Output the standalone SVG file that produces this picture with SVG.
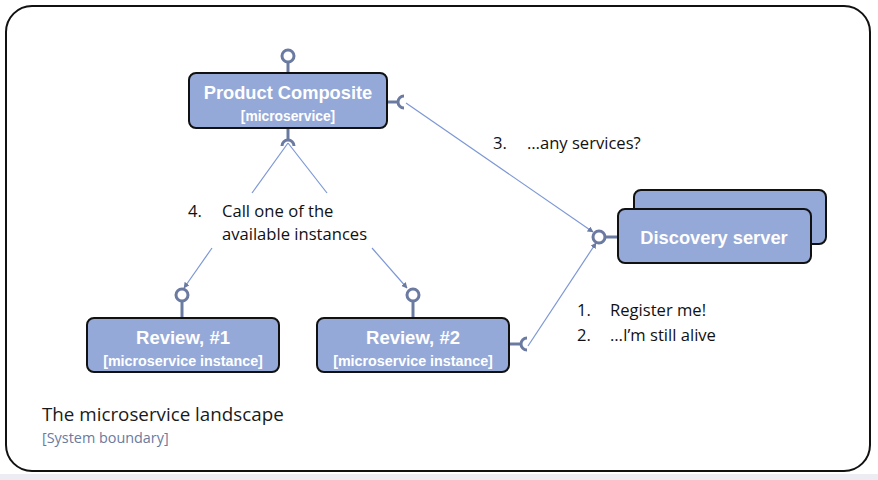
<svg xmlns="http://www.w3.org/2000/svg" width="878" height="480" viewBox="0 0 878 480">
<defs>
<style>
.box{fill:#94a9d8;stroke:#111;stroke-width:2}
.iface{fill:#fff;stroke:#6a7aa0;stroke-width:3}
.sock{fill:none;stroke:#6a7aa0;stroke-width:3}
.stick{stroke:#6a7aa0;stroke-width:3}
.conn{stroke:#7c97d6;stroke-width:1.2;fill:none}
.t{font-family:"Liberation Sans",Arial,sans-serif;fill:#fff;font-weight:bold;text-anchor:middle}
.lbl{font-family:"Open Sans","Liberation Sans",sans-serif;fill:#111;font-size:16.6px}
</style>
<marker id="arr" viewBox="0 0 10 10" refX="9" refY="5" markerWidth="6" markerHeight="6" orient="auto" markerUnits="userSpaceOnUse">
<path d="M0,0 L10,5 L0,10 z" fill="#6a7aa0"/>
</marker>
</defs>
<rect x="0" y="0" width="878" height="480" fill="#fff"/>
<rect x="0" y="474" width="878" height="6" fill="#ececf2"/>
<g id="boundary">
<rect x="6" y="6" width="864" height="465" rx="26" ry="26" fill="#fff" stroke="#111" stroke-width="2"/>
<text x="42" y="421" style="font-family:'Open Sans','Liberation Sans',sans-serif;font-size:18.8px;fill:#1a1a1a">The microservice landscape</text>
<text x="42" y="443" style="font-family:'Open Sans','Liberation Sans',sans-serif;font-size:14.4px;fill:#6a7aa0">[System boundary]</text>
</g>
<g id="connectors">
<line class="conn" x1="406" y1="103" x2="593" y2="232" marker-end="url(#arr)"/>
<line class="conn" x1="528" y1="346" x2="596" y2="243" marker-end="url(#arr)"/>
<line class="conn" x1="288" y1="143" x2="252" y2="193"/>
<line class="conn" x1="288" y1="143" x2="327" y2="193"/>
<line class="conn" x1="212" y1="248" x2="184" y2="288" marker-end="url(#arr)"/>
<line class="conn" x1="372" y1="248" x2="407" y2="288" marker-end="url(#arr)"/>
</g>
<g id="product-composite">
<line class="stick" x1="288" y1="62" x2="288" y2="73"/>
<circle class="iface" cx="288" cy="56" r="6"/>
<line class="stick" x1="288" y1="128" x2="288" y2="139"/>
<path class="sock" d="M282,146 A6,6 0 0 1 294,146"/>
<line class="stick" x1="387" y1="102" x2="398" y2="102"/>
<path class="sock" d="M404,96 A6,6 0 0 0 404,108"/>
<rect class="box" x="189" y="73" width="198" height="55" rx="7"/>
<text class="t" x="288" y="99" font-size="18.3">Product Composite</text>
<text class="t" x="288" y="121" font-size="13.8">[microservice]</text>
</g>
<g id="discovery-server">
<rect class="box" x="634" y="190" width="192" height="54" rx="7"/>
<line class="stick" x1="605" y1="237" x2="618" y2="237"/>
<circle class="iface" cx="599" cy="237" r="6"/>
<rect class="box" x="618" y="209" width="193" height="54" rx="7"/>
<text class="t" x="714" y="244" font-size="18.3">Discovery server</text>
</g>
<g id="review-1">
<line class="stick" x1="182" y1="301" x2="182" y2="318"/>
<circle class="iface" cx="182" cy="295" r="6"/>
<rect class="box" x="87" y="318" width="192" height="54" rx="7"/>
<text class="t" x="183" y="344" font-size="18.5">Review, #1</text>
<text class="t" x="183" y="366" font-size="14.3">[microservice instance]</text>
</g>
<g id="review-2">
<line class="stick" x1="413" y1="301" x2="413" y2="318"/>
<circle class="iface" cx="413" cy="295" r="6"/>
<line class="stick" x1="509" y1="344" x2="521" y2="344"/>
<path class="sock" d="M527,338 A6,6 0 0 0 527,350"/>
<rect class="box" x="317" y="318" width="192" height="54" rx="7"/>
<text class="t" x="413" y="344" font-size="18.5">Review, #2</text>
<text class="t" x="413" y="366" font-size="14.3">[microservice instance]</text>
</g>
<g id="labels">
<text class="lbl" x="493" y="149">3.</text>
<text class="lbl" x="527" y="149">…any services?</text>
<text class="lbl" x="188" y="217">4.</text>
<text class="lbl" x="222" y="217">Call one of the</text>
<text class="lbl" x="222" y="240">available instances</text>
<text class="lbl" x="577" y="316">1.</text>
<text class="lbl" x="610" y="316">Register me!</text>
<text class="lbl" x="577" y="341">2.</text>
<text class="lbl" x="610" y="341">…I’m still alive</text>
</g>
</svg>
